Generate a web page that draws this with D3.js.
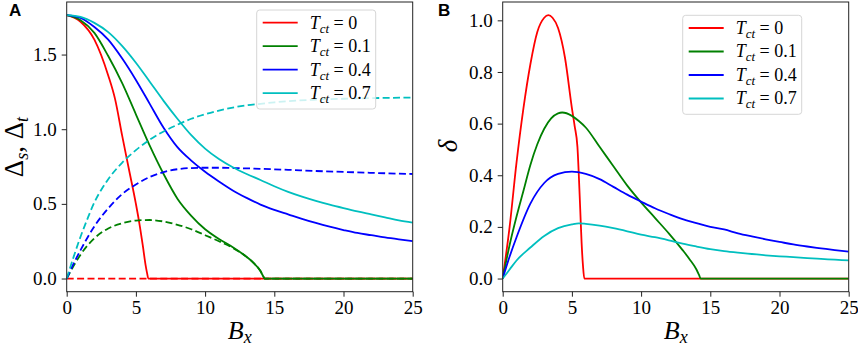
<!DOCTYPE html>
<html>
<head>
<meta charset="utf-8">
<style>
  body { margin: 0; background: #fff; }
  svg { display: block; }
  .lbl { font-family: "Liberation Serif", "Times New Roman", serif; fill: #000; }
  .panel { font-family: "Liberation Sans", Arial, sans-serif; font-weight: bold; font-size: 17px; }
</style>
</head>
<body>
<div id="chart"></div>
<script src="https://d3js.org/d3.v7.min.js"></script>
<script>
// legend entries / colours (matplotlib r, g, b, c)
const tctLabels = ["0", "0.1", "0.4", "0.7"];
const colors = ["#ff0000", "#008000", "#0000ff", "#00bfbf"];
const xTicks = [0, 5, 10, 15, 20, 25];
const yTicksA = [0, 0.5, 1.0, 1.5];
const yTicksB = [0, 0.2, 0.4, 0.6, 0.8, 1.0];

// panel A, solid: singlet gap Δs vs Bx, [Bx, value]
const singletT0 = [[0,1.764],[1,1.72],[2,1.6],[3,1.36],[3.5,1.2],[4,0.96],[4.5,0.73],[5,0.5],[5.25,0.37],[5.5,0.22],[5.7,0.09],[5.8,0.04],[5.9,0],[25,0]];
const singletT01 = [[0,1.764],[1,1.73],[2,1.645],[3,1.49],[4,1.31],[5,1.1],[6,0.89],[7,0.7],[8,0.535],[9,0.42],[10,0.33],[11,0.265],[12,0.21],[13,0.145],[13.5,0.105],[14,0.05],[14.2,0.015],[14.3,0],[25,0]];
const singletT04 = [[0,1.764],[1,1.745],[2,1.685],[3,1.6],[4,1.475],[5,1.33],[6,1.17],[7,1.01],[8,0.88],[9,0.79],[10,0.715],[11,0.65],[12,0.59],[13,0.54],[14,0.495],[15,0.46],[16,0.43],[17,0.4],[18,0.372],[19,0.347],[20,0.325],[21,0.305],[22,0.29],[23,0.275],[24,0.262],[25,0.25]];
const singletT07 = [[0,1.764],[1,1.752],[2,1.712],[3,1.65],[4,1.558],[5,1.445],[6,1.318],[7,1.19],[8,1.07],[9,0.96],[10,0.87],[11,0.8],[12,0.745],[13,0.7],[14,0.66],[15,0.618],[16,0.58],[17,0.548],[18,0.52],[19,0.495],[20,0.472],[21,0.45],[22,0.43],[23,0.41],[24,0.39],[25,0.375]];

// panel A, dashed: triplet gap Δt vs Bx
const tripletT0 = [[0,0],[25,0]];
const tripletT01 = [[0,0],[0.5,0.085],[1,0.16],[2,0.27],[3,0.335],[4,0.37],[5,0.388],[6,0.392],[7,0.382],[8,0.36],[9,0.33],[10,0.29],[11,0.25],[12,0.205],[13,0.145],[13.5,0.105],[14,0.05],[14.2,0.015],[14.3,0],[25,0]];
const tripletT04 = [[0,0],[0.5,0.1],[1,0.19],[2,0.35],[3,0.47],[4,0.565],[5,0.63],[6,0.68],[7,0.713],[8,0.732],[9,0.74],[10,0.742],[11,0.742],[12,0.74],[14,0.735],[16,0.728],[18,0.72],[20,0.714],[22,0.708],[25,0.7]];
const tripletT07 = [[0,0],[0.5,0.145],[1,0.28],[1.5,0.4],[2,0.51],[2.5,0.595],[3,0.665],[4,0.775],[5,0.86],[6,0.93],[7,0.985],[8,1.03],[9,1.07],[10,1.1],[11,1.125],[12,1.145],[13,1.16],[14,1.17],[15,1.18],[16,1.188],[18,1.198],[20,1.204],[22,1.208],[25,1.212]];

// panel B: δ vs Bx
const deltaT0 = [[0,0],[0.5,0.2],[1,0.45],[1.5,0.66],[2,0.83],[2.5,0.955],[3,1.01],[3.3,1.02],[3.6,1.01],[4,0.97],[4.5,0.855],[5,0.66],[5.2,0.59],[5.4,0.51],[5.5,0.4],[5.6,0.27],[5.7,0.14],[5.8,0.05],[5.9,0],[25,0]];
const deltaT01 = [[0,0],[0.5,0.13],[1,0.24],[1.5,0.34],[2,0.44],[2.5,0.52],[3,0.58],[3.5,0.62],[4,0.64],[4.3,0.643],[5,0.63],[5.5,0.61],[6,0.585],[7,0.51],[8,0.435],[9,0.36],[10,0.295],[11,0.235],[12,0.175],[13,0.11],[13.5,0.075],[14,0.035],[14.2,0.012],[14.3,0],[25,0]];
const deltaT04 = [[0,0],[0.5,0.085],[1,0.16],[2,0.29],[3,0.37],[4,0.405],[5,0.414],[6,0.405],[7,0.385],[8,0.355],[9,0.325],[10,0.298],[11,0.272],[12,0.25],[13,0.23],[14,0.215],[15,0.2],[16,0.19],[17,0.175],[18,0.163],[19,0.152],[20,0.142],[21,0.132],[22,0.124],[23,0.117],[24,0.11],[25,0.104]];
const deltaT07 = [[0,0],[0.5,0.035],[1,0.07],[2,0.12],[3,0.165],[4,0.195],[5,0.21],[5.5,0.214],[6,0.212],[7,0.205],[8,0.195],[9,0.183],[10,0.17],[11,0.16],[12,0.148],[13,0.135],[14,0.124],[15,0.114],[16,0.106],[17,0.1],[18,0.095],[19,0.09],[20,0.086],[21,0.083],[22,0.079],[23,0.076],[24,0.073],[25,0.07]];

const W = 858, H = 348;
const svg = d3.select("#chart").append("svg").attr("width", W).attr("height", H);

function styleAxis(sel) {
  sel.attr("font-family", null).attr("font-size", null);
  sel.select(".domain").remove();
  sel.selectAll(".tick line").attr("stroke", "#222");
  sel.selectAll(".tick text")
    .attr("class", "lbl")
    .attr("fill", "#000")
    .style("font-size", "19px");
}

function drawPanel(p) {
  const x = d3.scaleLinear().domain([0, 25]).range([p.left, p.right]);
  const y = d3.scaleLinear().domain(p.yDomain).range([p.bottom, p.top]);
  const g = svg.append("g");

  const clipId = "clip" + p.name;
  g.append("clipPath").attr("id", clipId).append("rect")
    .attr("x", p.left).attr("y", p.top).attr("width", p.right - p.left).attr("height", p.bottom - p.top);

  const line = d3.line().x(d => x(d[0])).y(d => y(d[1])).curve(d3.curveMonotoneX);
  const lines = g.append("g").attr("clip-path", `url(#${clipId})`);
  p.series.forEach(s => {
    lines.append("path")
      .attr("d", line(s.data))
      .attr("fill", "none")
      .attr("stroke", colors[s.c])
      .attr("stroke-width", 1.8)
      .attr("stroke-dasharray", s.dash ? "7,3.4" : null);
  });

  // axes
  g.append("g").attr("transform", `translate(0,${p.bottom})`)
    .call(d3.axisBottom(x).tickValues(xTicks).tickSize(5).tickPadding(4).tickFormat(d3.format("d")))
    .call(styleAxis);
  g.append("g").attr("transform", `translate(${p.left},0)`)
    .call(d3.axisLeft(y).tickValues(p.yTicks).tickSize(5).tickPadding(5).tickFormat(d3.format(".1f")))
    .call(styleAxis);
  g.append("rect").attr("x", p.left).attr("y", p.top)
    .attr("width", p.right - p.left).attr("height", p.bottom - p.top)
    .attr("fill", "none").attr("stroke", "#222").attr("stroke-width", 1);

  // x label B_x
  const xl = g.append("text").attr("class", "lbl")
    .attr("x", (p.left + p.right) / 2).attr("y", 339)
    .attr("text-anchor", "middle").style("font-size", "26px").style("font-style", "italic");
  xl.append("tspan").text("B");
  xl.append("tspan").attr("dy", 4).style("font-size", "18px").text("x");

  // legend
  const lg = g.append("g").attr("transform", `translate(${p.legX},${p.legY})`);
  lg.append("rect").attr("width", 119).attr("height", 99).attr("rx", 3)
    .attr("fill", "rgba(255,255,255,0.8)").attr("stroke", "#d6d6d6");
  tctLabels.forEach((t, i) => {
    const yy = 12.7 + i * 23.5;
    lg.append("line").attr("x1", 6).attr("x2", 41).attr("y1", yy).attr("y2", yy)
      .attr("stroke", colors[i]).attr("stroke-width", 1.8);
    const tx = lg.append("text").attr("class", "lbl").attr("x", 53).attr("y", yy + 6)
      .style("font-size", "18px");
    tx.append("tspan").style("font-style", "italic").text("T");
    tx.append("tspan").attr("dy", 4).style("font-style", "italic").style("font-size", "13px").text("ct");
    tx.append("tspan").attr("dy", -4).text(" = " + t);
  });

  return g;
}

const gA = drawPanel({
  name: "A", left: 66.7, right: 412.7, top: 2, bottom: 291.7,
  yDomain: [-0.0882, 1.852], yTicks: yTicksA, legX: 256.7, legY: 10,
  series: [
    { data: singletT0, c: 0 }, { data: tripletT0, c: 0, dash: true },
    { data: singletT01, c: 1 }, { data: tripletT01, c: 1, dash: true },
    { data: singletT04, c: 2 }, { data: tripletT04, c: 2, dash: true },
    { data: singletT07, c: 3 }, { data: tripletT07, c: 3, dash: true }
  ]
});

const gB = drawPanel({
  name: "B", left: 502.7, right: 848.7, top: 2, bottom: 291.7,
  yDomain: [-0.051, 1.071], yTicks: yTicksB, legX: 682.7, legY: 15.3,
  series: [
    { data: deltaT0, c: 0 }, { data: deltaT01, c: 1 },
    { data: deltaT04, c: 2 }, { data: deltaT07, c: 3 }
  ]
});

// y labels
const yl = svg.append("text").attr("class", "lbl")
  .attr("transform", "translate(23,147) rotate(-90)")
  .attr("text-anchor", "middle").style("font-size", "27px");
yl.append("tspan").text("Δ");
yl.append("tspan").attr("dy", 5).style("font-size", "18px").style("font-style", "italic").text("s");
yl.append("tspan").attr("dy", -5).text(", Δ");
yl.append("tspan").attr("dy", 5).style("font-size", "18px").style("font-style", "italic").text("t");

svg.append("text").attr("class", "lbl")
  .attr("transform", "translate(457,146) rotate(-90)")
  .attr("text-anchor", "middle").style("font-size", "27px").style("font-style", "italic")
  .text("δ");

// panel letters
svg.append("text").attr("class", "panel").attr("x", 9).attr("y", 16).text("A");
svg.append("text").attr("class", "panel").attr("x", 438).attr("y", 16).text("B");
</script>
</body>
</html>
